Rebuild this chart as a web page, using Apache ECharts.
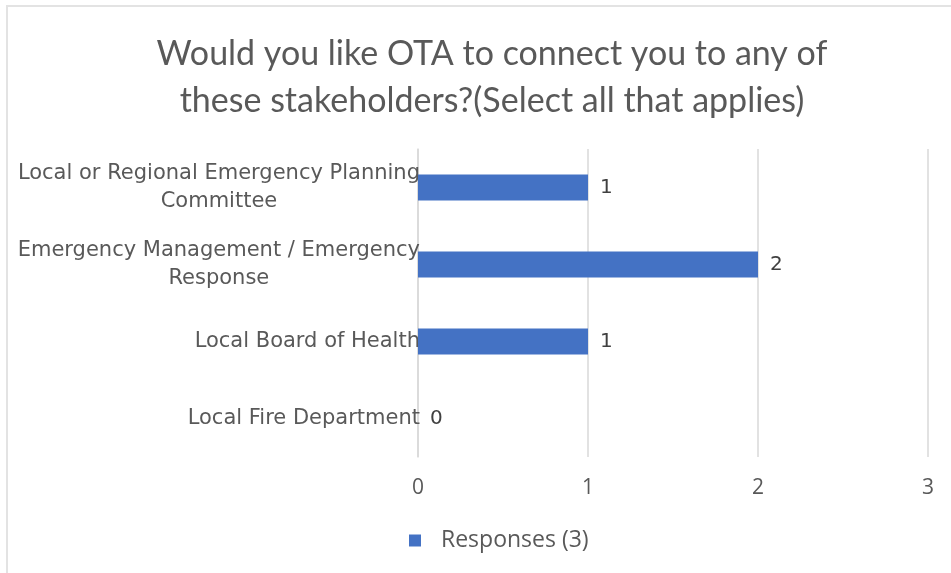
<!DOCTYPE html>
<html>
<head>
<meta charset="utf-8">
<script src="https://cdn.jsdelivr.net/npm/echarts@6/dist/echarts.min.js"></script>
<style>
  html, body { margin: 0; padding: 0; background: #fff; }
  #chart { width: 951px; height: 573px; }
</style>
</head>
<body>
<div id="chart"></div>
<script>
// Survey answers: stakeholders respondents want to be connected to
const titleLines = ['Would you like OTA to connect you to any of', 'these stakeholders?(Select all that applies)'];
const categories = [
  'Local or Regional Emergency Planning\nCommittee',
  'Emergency Management / Emergency\nResponse',
  'Local Board of Health',
  'Local Fire Department'
];
const responses = [1, 2, 1, 0];
const seriesName = 'Responses (3)';
const axisTicks = { min: 0, max: 3, interval: 1 };

const titleFont = 'Lato, sans-serif';
const smallFont = '"Open Sans", sans-serif';
const labelFont = '"DejaVu Sans", sans-serif';

const chart = echarts.init(document.getElementById('chart'));
chart.setOption({
  animation: false,
  backgroundColor: '#fff',
  graphic: [{
    type: 'rect',
    shape: { x: 7, y: 6, width: 980, height: 600 },
    style: { fill: 'none', stroke: '#e3e3e3', lineWidth: 2 },
    silent: true,
    z: -1
  }],
  title: {
    text: titleLines.join('\n'),
    left: 487,
    top: 26,
    textAlign: 'center',
    textStyle: {
      fontFamily: titleFont,
      fontSize: 34,
      fontWeight: 'normal',
      color: '#595959',
      lineHeight: 47
    }
  },
  legend: {
    data: [seriesName],
    left: 404,
    top: 524,
    icon: 'rect',
    itemWidth: 12,
    itemHeight: 12,
    formatter: function (n) { return '{t|' + n + '}'; },
    textStyle: {
      fontFamily: smallFont, fontSize: 23, color: '#595959',
      rich: { t: { fontFamily: smallFont, fontSize: 23, color: '#595959', padding: [0, 0, 0, 15] } }
    }
  },
  grid: { left: 418, right: 23, top: 149, bottom: 116, containLabel: false },
  xAxis: {
    type: 'value',
    min: axisTicks.min,
    max: axisTicks.max,
    interval: axisTicks.interval,
    axisLine: { show: false },
    axisTick: { show: false },
    splitLine: { lineStyle: { color: '#d9d9d9', width: 1.5 } },
    axisLabel: { margin: 21, fontFamily: smallFont, fontSize: 21, color: '#595959' }
  },
  yAxis: {
    type: 'category',
    inverse: true,
    data: categories,
    axisLine: { show: true, lineStyle: { color: '#d9d9d9', width: 1.5 } },
    axisTick: { show: false },
    axisLabel: {
      margin: -2,
      fontFamily: labelFont,
      fontSize: 21,
      color: '#595959',
      lineHeight: 28,
      formatter: function (v) {
        return v.split('\n').map(function (s) { return '{c|' + s + '}'; }).join('\n');
      },
      rich: {
        c: { align: 'center', fontFamily: labelFont, fontSize: 21, color: '#595959', lineHeight: 28 }
      }
    }
  },
  series: [{
    name: seriesName,
    type: 'bar',
    data: responses,
    barWidth: 26,
    itemStyle: { color: '#4472C4' },
    label: {
      show: true,
      position: 'right',
      distance: 12,
      fontFamily: labelFont,
      fontSize: 20,
      color: '#404040'
    }
  }]
});
</script>
</body>
</html>
